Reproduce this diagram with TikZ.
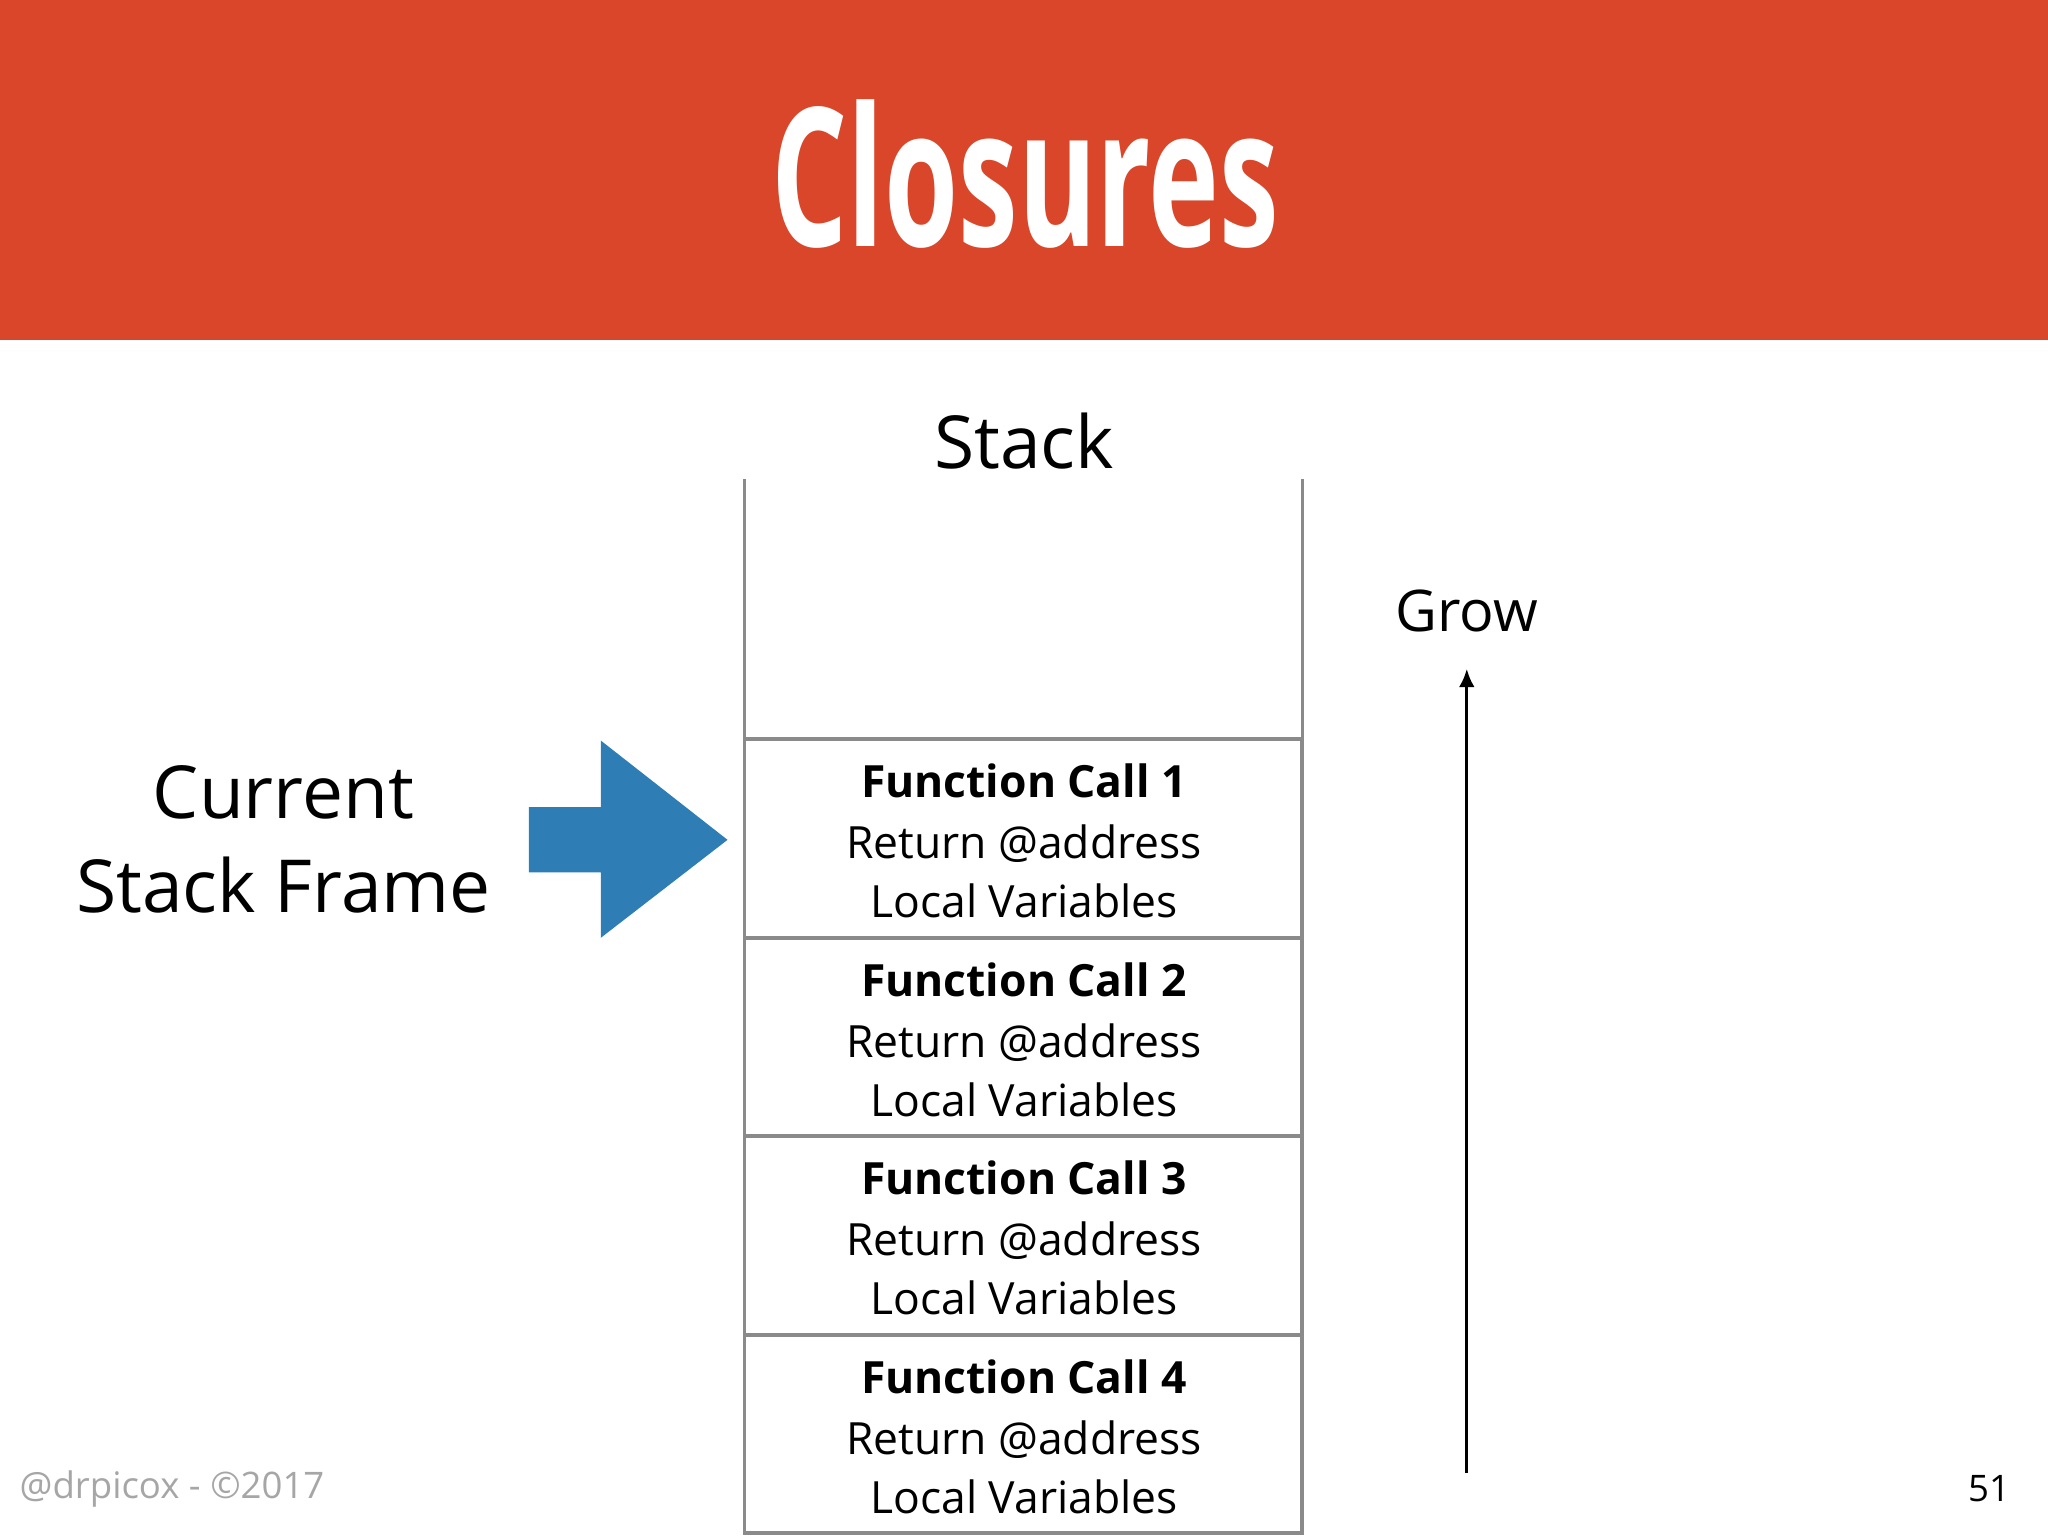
\documentclass[tikz,border=0pt]{standalone}
\usepackage{fontspec}
\usetikzlibrary{arrows.meta}
\setmainfont{Open Sans}
\definecolor{hdr}{HTML}{D9462A}
\definecolor{arr}{HTML}{2E7DB5}
\definecolor{wall}{HTML}{8A8A8A}
\begin{document}
\begin{tikzpicture}[x=0.5pt,y=-0.5pt,
  frame/.style={draw=wall,line width=1.5pt},
  ln/.style={font=\fontsize{17}{20}\selectfont},
  bl/.style={font=\fontsize{17}{20}\selectfont\bfseries}]
\useasboundingbox (0,0) rectangle (1568,1176);
\fill[hdr] (0,0) rectangle (1568,260);
\node[text=white,font=\fontsize{74}{80}\selectfont\bfseries] (title) at (785,133) {\scalebox{0.62}[1]{Closures}};
\node[font=\fontsize{28}{32}\selectfont] (stack) at (784,338) {Stack};
\draw[wall,line width=1pt] (570,367) -- (570,566) (997,367) -- (997,566);
\foreach \i/\t in {1/566,2/718,3/870,4/1022}{
  \draw[frame] (570,\t) rectangle (997,\t+152);
  \node[bl] (f\i) at (784,\t+32) {Function Call \i};
  \node[ln] (r\i) at (784,\t+80) {Return @address};
  \node[ln] (l\i) at (784,\t+124) {Local Variables};
}
\node[font=\fontsize{28}{36}\selectfont,align=center] (cur) at (217,643) {Current\\Stack Frame};
\fill[arr] (405,618) -- (460,618) -- (460,567) -- (557,643) -- (460,718) -- (460,668) -- (405,668) -- cycle;
\node[font=\fontsize{22}{26}\selectfont] (grow) at (1123,468) {Grow};
\coordinate (gb) at (1123,1128);
\coordinate (gt) at (1123,512);
\draw[line width=1.2pt,-{Latex[length=7pt,width=6pt]}] (gb) -- (gt);
\node[text=gray!70,font=\fontsize{14}{16}\selectfont,anchor=west] (ft) at (8,1140) {@drpicox - ©2017};
\node[font=\fontsize{14}{16}\selectfont,anchor=east] (pg) at (1546,1140) {51};
\end{tikzpicture}
\end{document}
